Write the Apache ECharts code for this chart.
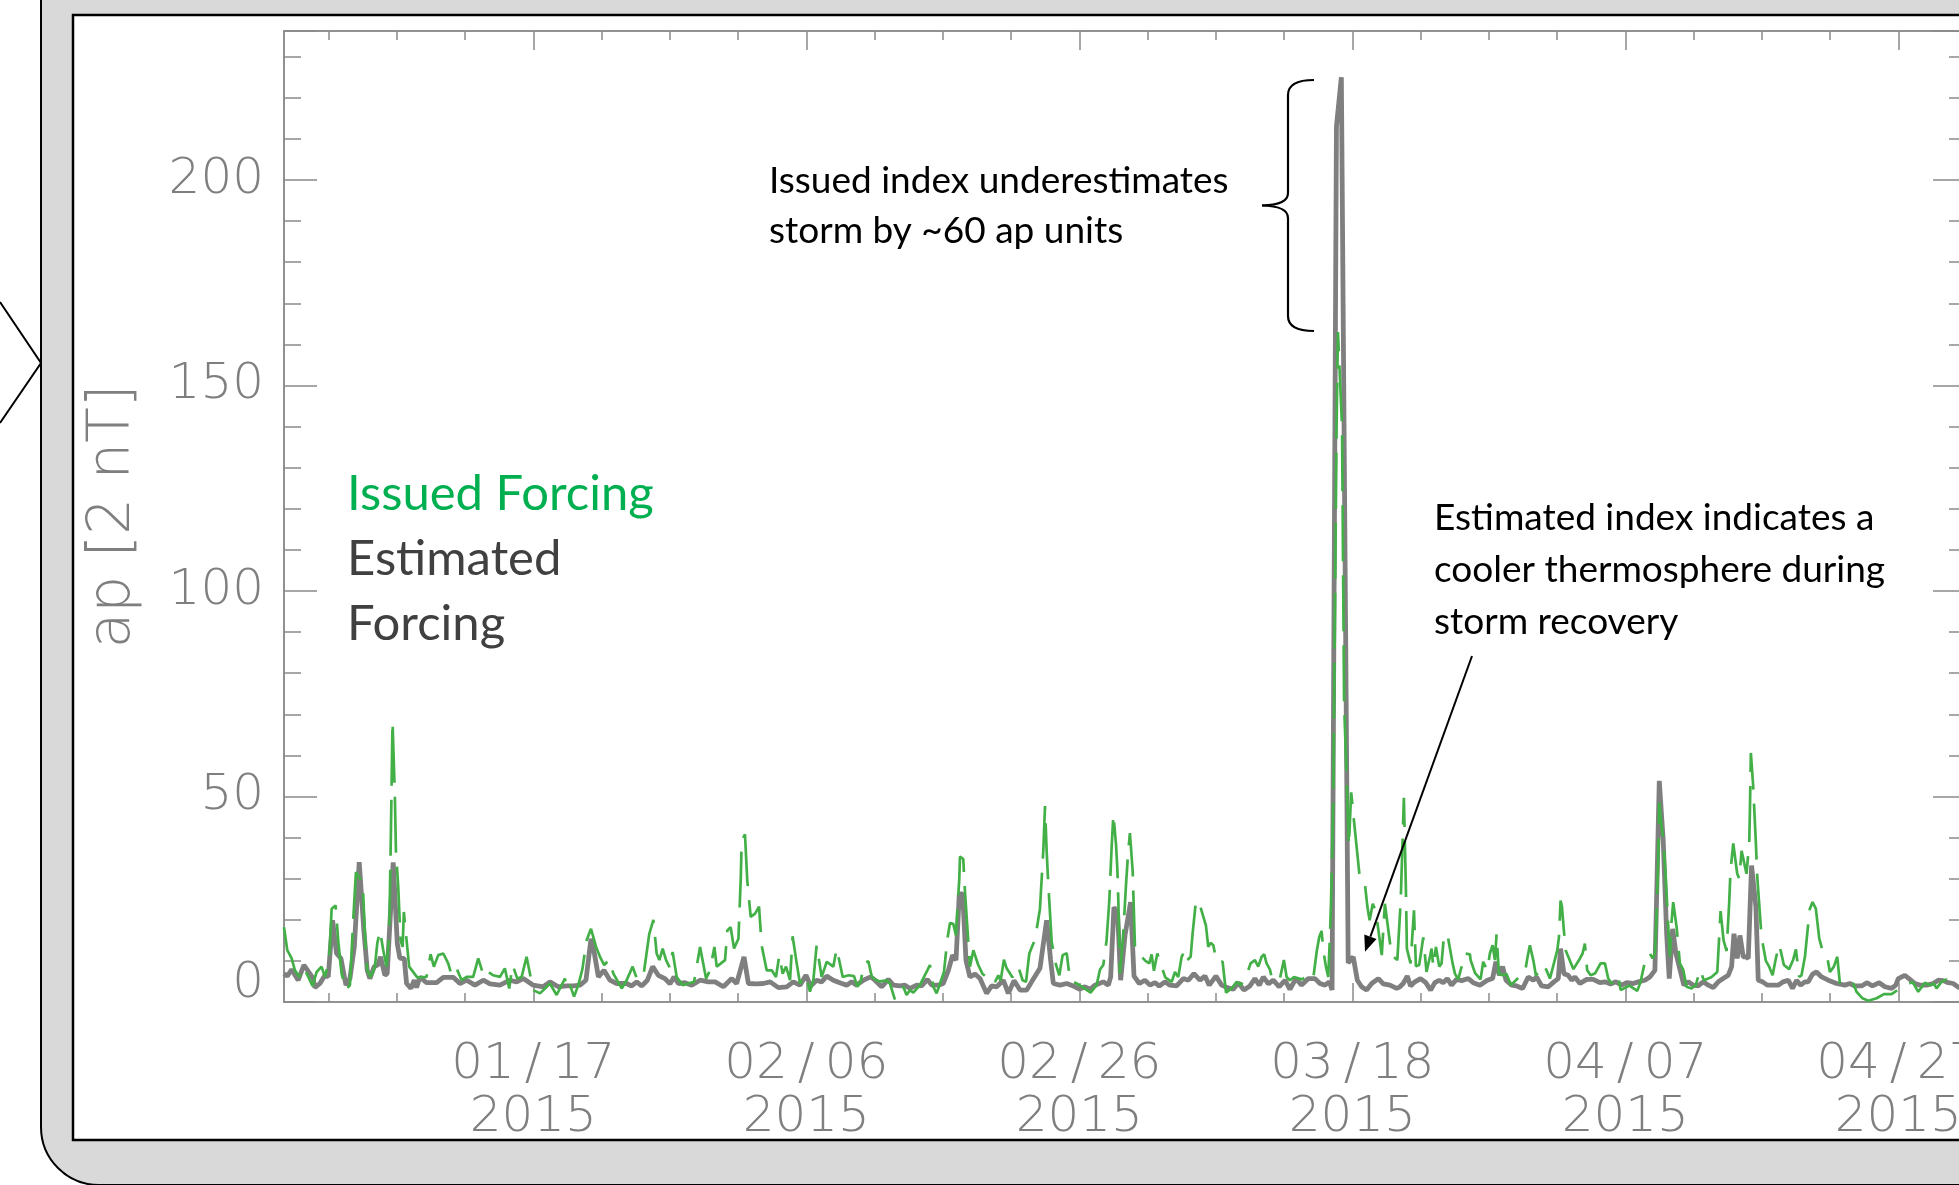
<!DOCTYPE html>
<html>
<head>
<meta charset="utf-8">
<script src="https://cdn.jsdelivr.net/npm/echarts@6/dist/echarts.min.js"></script>
<style>
html, body { margin: 0; padding: 0; background: #fff; }
#chart { width: 1959px; height: 1185px; }
</style>
</head>
<body>
<div id="chart"></div>
<script>
// x = days counted from 2015-01-01 (16 = 01/17), y = ap [2 nT]
var estimatedAp = [
  [-2.26,6.9],[-2.02,6.3],[-1.7,7.9],[-1.22,5.3],[-0.8,9],[-0.12,5.7],[0.0,3.5],[0.37,4.5],[0.74,6.5],[0.98,6.1],
  [1.3,19.9],[1.59,11.8],[1.91,10.6],[2.28,4.1],[2.57,5.7],[2.89,13.4],[3.25,34],[3.59,17.4],[3.84,7.7],[4.03,5.7],
  [4.35,8.6],[4.64,9.1],[4.81,11],[5.13,6.5],[5.3,6.9],[5.74,34],[6.04,14.2],[6.23,10.6],[6.55,10.6],[6.72,4.5],
  [7.04,3.3],[7.28,5.3],[7.45,3.5],[7.7,6.1],[8.18,4.7],[8.92,4.7],[9.41,6.0],[10.14,6.0],[10.63,4.5],[11.12,5.3],
  [11.73,4.1],[12.34,5.3],[12.83,4.4],[13.56,4.1],[14.29,5.3],[14.78,4.9],[15.27,5.7],[16.0,4.1],[16.73,3.7],[17.22,4.9],
  [17.83,3.7],[18.45,3.9],[18.94,3.9],[19.43,4.1],[19.86,5.3],[20.23,15.4],[20.48,11.8],[20.77,6.1],[21.18,7.7],[21.62,5.3],
  [22.11,4.5],[22.84,4.5],[23.21,3.9],[23.58,4.9],[23.94,3.9],[24.36,5.3],[24.75,8.6],[25.16,6.5],[25.65,5.7],[26.02,4.4],
  [26.31,6.1],[26.63,4.5],[27.12,4.7],[27.61,4.1],[28.22,5.3],[28.83,4.9],[29.32,4.9],[29.93,3.7],[30.54,5.7],[30.9,4.5],
  [31.44,11],[31.76,4.5],[32.37,4.4],[32.86,4.5],[33.35,4.9],[33.96,3.5],[34.57,3.7],[35.05,4.9],[35.54,4.1],[35.98,6.5],
  [36.32,3.9],[36.76,5.3],[37.13,4.9],[37.5,6.3],[37.98,5.3],[38.5,4.6],[38.96,4.1],[39.32,4.9],[39.69,4.1],[40.18,5.3],
  [40.72,6.1],[41.03,5.3],[41.52,3.7],[42.01,5.5],[42.38,4.1],[42.87,3.9],[43.23,4.1],[43.6,3.3],[44.09,4.1],[44.45,3.9],
  [44.87,5.5],[45.19,4.1],[45.67,4.1],[46.04,4.5],[46.41,7.7],[46.72,11.4],[46.97,10.2],[47.21,26.3],[47.46,26.3],[47.7,10.2],
  [47.99,6.1],[48.36,6.8],[48.73,5.7],[49.21,2.1],[49.58,3.9],[49.95,3.7],[50.44,5.3],[50.8,2.1],[51.22,5.2],[51.66,2.9],
  [52.15,2.9],[52.51,4.9],[53.12,8.2],[53.61,19.9],[53.9,10.2],[54.1,4.5],[54.59,4.1],[55.08,4.5],[55.56,3.9],[56.0,3.1],
  [56.42,3.7],[56.78,3.1],[57.15,4.1],[57.76,4.9],[58.13,4.1],[58.3,6.1],[58.54,23.1],[58.81,21.5],[59.03,5.3],[59.35,16.2],
  [59.76,24.3],[60.01,6.3],[60.4,4.5],[60.81,5.3],[61.18,4.1],[61.54,4.7],[61.86,3.9],[62.28,4.9],[62.64,4.1],[63.13,3.9],
  [63.62,5.7],[63.99,5.3],[64.4,6.9],[64.84,5.3],[65.21,6.3],[65.52,4.1],[66.01,6.3],[66.43,4.1],[66.84,3.5],[67.28,3.1],
  [67.65,4.7],[68.06,2.9],[68.5,3.9],[68.87,5.7],[69.19,4.1],[69.48,6.1],[69.85,4.4],[70.21,5.3],[70.65,3.7],[71.07,5.3],
  [71.43,3.1],[71.87,5.7],[72.29,4.1],[72.78,5.7],[73.27,5.7],[73.63,4.5],[74.0,4.1],[74.32,4.9],[74.52,2.9],[74.84,213],
  [75.2,225],[75.7,9.5],[76.07,11],[76.37,5.3],[76.68,3.7],[77.05,2.9],[77.42,4.5],[77.91,5.7],[78.27,4.4],[78.76,4.1],
  [79.25,3.3],[79.49,3.7],[79.73,4.5],[80.03,6.3],[80.27,3.9],[80.59,4.9],[81.0,5.7],[81.39,4.7],[81.74,2.9],[82.05,4.7],
  [82.37,5.3],[82.66,4.7],[82.96,5.7],[83.27,4.1],[83.64,5.5],[84.01,5.2],[84.5,5.7],[84.86,4.7],[85.35,4.1],[85.89,5.3],
  [86.28,5.7],[86.52,9.8],[86.77,6.5],[87.01,8.6],[87.26,5.3],[87.67,4.1],[88.04,3.9],[88.48,3.3],[88.89,6.1],[89.26,5.3],
  [89.5,6.1],[89.87,3.9],[90.36,3.7],[90.77,4.9],[91.09,5.7],[91.26,13],[91.5,6.9],[91.82,6.5],[92.07,5.3],[92.31,6.1],
  [92.68,4.5],[93.17,5.5],[93.65,5.5],[94.14,4.7],[94.51,4.9],[94.92,4.4],[95.31,4.9],[95.73,4.1],[96.1,4.7],[96.58,4.5],
  [96.95,4.9],[97.44,5.3],[97.8,6.1],[98.17,7.7],[98.29,24.7],[98.49,53.8],[98.78,39.2],[99.03,16.6],[99.22,5.7],[99.47,17.8],
  [99.71,11.8],[100.0,8.0],[100.29,4.1],[100.61,4.9],[100.98,4.1],[101.34,3.9],[101.71,4.9],[102.08,4.1],[102.44,3.5],[102.81,4.9],
  [103.17,5.7],[103.54,6.5],[103.79,8.6],[103.96,16.6],[104.2,10.6],[104.4,16.2],[104.64,11],[104.84,11],[105.01,10.6],[105.25,33.2],
  [105.57,23.1],[105.74,5.3],[106.06,4.9],[106.4,4.1],[107.2,4.1],[107.57,4.9],[107.94,5.3],[108.25,3.3],[108.55,5.3],[108.84,4.1],
  [109.16,4.9],[109.4,4.9],[109.72,6.8],[110.01,7.3],[110.38,6.1],[110.87,5.3],[111.48,4.5],[112.09,4.1],[112.45,4.5],[112.82,3.9],
  [113.31,3.9],[113.72,4.7],[114.11,3.9],[114.6,4.7],[115.02,3.7],[115.51,3.3],[115.82,4.1],[116.0,5.7],[116.48,6.5],[116.85,5.5],
  [117.22,4.5],[117.58,4.1],[118.07,4.1],[118.56,4.5],[118.93,5.3],[119.29,5.2],[119.66,4.7],[120.02,4.5],[120.44,3.5],[121.0,4.0]
];

var issuedAp = [
  [-2.26,18.2],[-2.02,12.6],[-1.7,10.6],[-1.46,7.7],[-1.14,6.1],[-0.85,8.6],[-0.48,6.1],[-0.17,3.9],[0.13,7.3],[0.49,8.6],
  [0.74,6.1],[1.05,10.2],[1.23,22.7],[1.52,23.5],[1.71,15],[1.96,6.9],[2.28,2.9],[2.57,4.1],[2.81,19.9],[3.01,31.6],
  [3.5,29.1],[3.67,16.6],[3.84,7.7],[4.08,6.1],[4.4,8.6],[4.57,14.2],[4.77,17.4],[5.01,12.6],[5.25,8.6],[5.45,16.6],
  [5.57,40.8],[5.69,68.3],[5.86,50.5],[5.94,36.8],[6.11,27.9],[6.28,15],[6.43,13.4],[6.52,21.9],[6.72,15],[6.91,8.6],
  [7.5,6.0],[8.18,6.1],[8.48,11.6],[8.72,8.6],[9.04,11.4],[9.41,11.8],[9.77,9.4],[10.02,6.5],[10.38,8.2],[10.75,5.3],
  [11.12,6.1],[11.6,6.1],[11.97,10.6],[12.39,6.1],[12.7,7.3],[13.07,6.5],[13.56,6.1],[13.92,8.2],[14.24,3.3],[14.49,9.0],
  [14.83,5.7],[15.15,6.1],[15.51,11],[16.0,2.9],[16.49,2.1],[16.86,3.3],[17.22,4.5],[17.71,1.7],[18.32,5.7],[18.5,2.9],
  [18.69,4.1],[18.99,1.3],[19.3,4.1],[19.6,8],[19.91,15],[20.23,17.8],[20.6,13.4],[20.89,11],[21.2,9],[21.57,10.3],
  [21.87,6.9],[22.48,3.3],[22.84,5.3],[23.28,8.6],[23.63,5.3],[24.11,7.3],[24.5,16.6],[24.8,20],[25.04,11.8],[25.24,10.2],
  [25.48,13],[25.73,10.2],[26.02,8.2],[26.21,12.2],[26.51,6.1],[26.95,4.1],[27.36,4.5],[27.78,4.9],[28.22,13.4],[28.66,5.7],
  [28.95,7.7],[29.27,13.4],[29.44,8.6],[30.05,10.2],[30.22,17.4],[30.46,18.2],[30.71,13],[31.03,15.4],[31.2,29.9],[31.27,39.2],
  [31.51,40.8],[31.68,29.5],[31.93,20.7],[32.25,21.5],[32.54,23.2],[32.73,13.8],[33.1,7.7],[33.47,7.7],[33.78,6.1],[34.03,11.4],
  [34.27,6.9],[34.52,8.6],[34.81,5.3],[35.0,16],[35.3,9.4],[35.54,4.5],[35.98,6.5],[36.27,2.5],[36.52,5.3],[36.76,13.8],
  [37.13,6.1],[37.5,9.8],[37.98,8.6],[38.23,13],[38.67,6.1],[39.1,6.5],[39.5,6.3],[39.74,3.7],[39.98,4.9],[40.23,9.4],
  [40.55,9.9],[40.79,6.3],[41.03,5.5],[41.4,5],[41.89,5.3],[42.13,4.5],[42.5,0.5],[42.82,2.5],[43.11,3.7],[43.35,1.7],
  [43.6,2.9],[43.84,2.3],[44.3,4],[44.87,7.7],[45.06,9.0],[45.31,3.7],[45.55,2.1],[45.8,4.5],[46.09,7.3],[46.33,15.2],
  [46.53,19.2],[46.77,19],[46.97,16.2],[47.07,22.3],[47.21,29.9],[47.26,35.4],[47.5,34.8],[47.63,26.7],[47.8,18.2],[47.99,8.6],
  [48.24,12.6],[48.6,9],[48.92,6.8],[49.34,5.7],[49.65,6.1],[49.83,4.9],[50.07,6.5],[50.24,5.2],[50.48,10.3],[50.68,8.2],
  [51.1,6],[51.53,8.6],[51.85,5.3],[52.1,4.9],[52.34,11.8],[52.58,13.8],[52.76,15.2],[53.12,22.7],[53.37,37.2],[53.49,47.7],
  [53.61,36.8],[53.73,28.7],[53.98,14.6],[54.3,9],[54.54,6.5],[54.78,11.4],[55.08,11.9],[55.32,5.3],[55.8,4.5],[56.3,3.5],
  [56.83,2.3],[57.27,4.1],[57.52,7.9],[57.76,9.0],[58.0,15],[58.2,24.7],[58.37,37.6],[58.5,45.7],[58.69,38.4],[58.79,32.4],
  [58.86,24.7],[58.98,6.9],[59.22,16.6],[59.42,28.3],[59.57,36],[59.71,41.1],[59.91,32],[60.08,13.4],[60.32,13],[60.57,11],
  [60.85,10],[61.13,9.4],[61.3,11.6],[61.47,7.6],[61.72,11.8],[61.91,9.8],[62.3,6],[62.77,4.9],[63.01,7.3],[63.25,6.1],
  [63.5,11],[63.74,12.6],[63.91,10.2],[64.16,11],[64.3,16.6],[64.55,24.7],[64.8,24],[65.28,18.6],[65.45,13.4],[65.62,14.4],
  [65.82,13.8],[66.06,9.8],[66.5,9.8],[66.75,2.3],[67.16,3.3],[67.53,4.9],[67.82,4.1],[68.2,6],[68.55,9.4],[68.87,10.2],
  [69.11,8.6],[69.36,11],[69.55,11.6],[69.72,9.4],[69.97,7.9],[70.09,6.1],[70.4,5],[70.7,5.7],[70.99,10.2],[71.19,6.1],
  [71.43,5.3],[71.73,6.1],[72.3,5.5],[72.85,6.5],[73.14,5.7],[73.39,12.2],[73.58,15.8],[73.75,17.3],[73.9,12],[74.07,8.6],
  [74.24,6.1],[74.36,15.8],[74.44,23.9],[74.54,38.4],[74.61,49],[74.85,140],[74.95,163],[75.25,140],[75.4,73],[75.75,38],
  [75.92,51],[76.2,41.6],[76.52,31.2],[76.91,29.2],[77.11,23.1],[77.27,19.9],[77.5,23.9],[77.73,22],[78.16,11.4],[78.39,23.9],
  [78.88,11.4],[79.3,10.2],[79.55,24.7],[79.78,49.7],[79.93,27.1],[80.0,13],[80.27,9.4],[80.52,22.3],[80.66,8.7],[80.9,9],
  [81.2,15.7],[81.44,7.3],[81.69,11],[81.81,13],[81.93,8.6],[82.13,13.4],[82.37,8.6],[82.54,9.4],[82.71,15.8],[82.96,16.6],
  [83.35,9.4],[83.52,6.9],[83.76,5.5],[84.01,8.6],[84.25,11.8],[84.62,11.6],[84.67,10.2],[85.0,7],[85.4,5.5],[85.59,9.8],
  [85.89,7.7],[86.08,11.8],[86.28,13.8],[86.45,10.2],[86.57,16.5],[86.74,6.9],[87.06,6.5],[87.3,6.8],[87.62,4.1],[88.2,6],
  [88.65,7.1],[88.82,10.6],[89.01,13.8],[89.26,10.2],[89.45,6.5],[89.75,7.5],[90.04,9.0],[90.23,7.7],[90.48,5.7],[90.77,9.4],
  [91.02,12.6],[91.14,15.8],[91.26,24.7],[91.36,23.2],[91.5,17.4],[91.65,12.4],[92.2,8],[92.68,10.6],[92.87,11.8],[93.04,14.2],
  [93.21,7.7],[93.46,6.5],[93.8,7],[94.19,9.4],[94.51,9.4],[94.75,5.7],[95.0,4.5],[95.24,5.3],[95.48,6.5],[95.66,2.9],
  [96.3,4],[96.88,2.7],[97.12,4.9],[97.36,8.6],[97.56,11.4],[97.8,11.8],[98.0,10.6],[98.17,11.8],[98.29,20.7],[98.42,35.2],
  [98.49,48.5],[98.66,42.5],[98.78,40],[98.95,31.2],[99.15,18.2],[99.27,11],[99.39,19.5],[99.51,24.3],[99.76,18.2],[100.0,9.4],
  [100.24,7.9],[100.49,3.7],[100.85,3.3],[101.17,4.1],[101.47,7.9],[101.76,5.3],[102.3,6],[102.74,7.3],[102.98,22.1],[103.2,15],
  [103.42,12.4],[103.61,24.1],[103.71,32],[103.91,38.6],[104.2,31.2],[104.35,30],[104.52,36.8],[104.88,31.2],[105.08,38.8],[105.13,46.5],
  [105.2,60.6],[105.37,52.5],[105.57,38.4],[105.67,30.3],[105.81,23.9],[105.98,15.8],[106.3,10],[106.54,8.6],[106.79,6.5],[107.03,10.6],
  [107.28,14],[107.62,9.0],[108.0,8],[108.3,10.3],[108.5,12.8],[108.74,6.1],[108.91,6.5],[109.16,11],[109.4,19],[109.52,22.7],
  [109.72,24.3],[109.96,22.7],[110.21,15.4],[110.5,12],[110.79,11],[110.99,7.3],[111.28,8.6],[111.53,11],[111.72,4.5],[112.2,4.8],
  [112.65,4.9],[112.94,2.5],[113.38,0.9],[113.8,0.3],[114.41,0.9],[114.95,1.9],[115.51,1.9],[116.2,3.5],[117.05,4.9],[117.46,2.5],
  [117.95,4.7],[118.32,4.1],[118.61,4.5],[118.8,3.3],[119.17,4.9],[119.54,5.5],[120.0,4.5],[120.5,4.2],[121.0,4.0]
];

var majorTickDays = [16, 36, 56, 76, 96, 116];
var minorTickDays = [1, 6, 11, 16, 21, 26, 31, 36, 41, 46, 51, 56, 61, 66, 71, 76, 81, 86, 91, 96, 101, 106, 111, 116];
var xMin = -2.26, xMax = 120.96;
var yMin = 0, yMax = 236.25;

var axisGray = '#8a8a8a';
var labelGray = '#7f7f7f';
var thinFont = 'DejaVu Sans';

function dayLabel(d) {
  var t = new Date(Date.UTC(2015, 0, 1) + Math.round(d) * 86400000);
  var mm = ('0' + (t.getUTCMonth() + 1)).slice(-2);
  var dd = ('0' + t.getUTCDate()).slice(-2);
  return mm + '\u2009/\u2009' + dd + '\n' + t.getUTCFullYear();
}

function xAx(pos, ticks, len, withLabel) {
  return {
    type: 'value', position: pos, min: xMin, max: xMax,
    axisLine: { show: true, onZero: false, lineStyle: { color: axisGray, width: 1.5 } },
    axisTick: { show: true, inside: true, length: len, customValues: ticks, lineStyle: { color: axisGray, width: 1.5 } },
    axisLabel: withLabel ? {
      show: true, customValues: majorTickDays, margin: 37,
      color: labelGray, fontFamily: thinFont, fontWeight: 200, fontSize: 50, lineHeight: 53,
      formatter: dayLabel
    } : { show: false },
    splitLine: { show: false }
  };
}

function yAx(pos, interval, len, withLabel) {
  var ax = {
    type: 'value', position: pos, min: yMin, max: yMax, interval: interval,
    axisLine: { show: true, onZero: false, lineStyle: { color: axisGray, width: 1.5 } },
    axisTick: { show: true, inside: true, length: len, lineStyle: { color: axisGray, width: 1.5 } },
    axisLabel: { show: false },
    splitLine: { show: false }
  };
  if (withLabel) {
    ax.axisLabel = {
      show: true, margin: 20, color: labelGray, fontFamily: thinFont, fontWeight: 200, fontSize: 50,
      formatter: function (v) {
        if (v === 0) return '{lo|0}';
        return v % 50 === 0 ? String(v) : '';
      },
      rich: { lo: { padding: [0, 0, 36, 0], color: labelGray, fontFamily: thinFont, fontWeight: 200, fontSize: 50 } }
    };
    ax.name = 'ap [2 nT]';
    ax.nameLocation = 'middle';
    ax.nameRotate = 90;
    ax.nameGap = 141;
    ax.nameTextStyle = { color: labelGray, fontFamily: thinFont, fontWeight: 200, fontSize: 58 };
  }
  return ax;
}

function braceCurve(x1, y1, cx, cy, x2, y2) {
  return { type: 'bezierCurve', z: 50, shape: { x1: x1, y1: y1, cpx1: cx, cpy1: cy, x2: x2, y2: y2 },
    style: { stroke: '#000', lineWidth: 2.2, fill: null } };
}
function braceLine(x1, y1, x2, y2) {
  return { type: 'line', z: 50, shape: { x1: x1, y1: y1, x2: x2, y2: y2 },
    style: { stroke: '#000', lineWidth: 2.2 } };
}

var chart = echarts.init(document.getElementById('chart'));

var option = {
  backgroundColor: '#ffffff',
  animation: false,
  grid: { left: 284, right: -7, top: 31, bottom: 183, containLabel: false, outerBoundsMode: 'none' },
  xAxis: [
    xAx('bottom', majorTickDays, 19, true),
    xAx('bottom', minorTickDays, 9, false),
    xAx('top', majorTickDays, 19, false),
    xAx('top', minorTickDays, 9, false)
  ],
  yAxis: [
    yAx('left', 50, 33, true),
    yAx('left', 10, 17, false),
    yAx('right', 50, 33, false),
    yAx('right', 10, 17, false)
  ],
  series: [
    {
      name: 'Estimated Forcing', type: 'line', xAxisIndex: 0, yAxisIndex: 0,
      data: estimatedAp, symbol: 'none', z: 2,
      lineStyle: { color: '#7f7f7f', width: 4.8 }
    },
    {
      name: 'Issued Forcing', type: 'line', xAxisIndex: 0, yAxisIndex: 0,
      data: issuedAp, symbol: 'none', z: 3,
      lineStyle: { color: '#43b047', width: 2.7, type: [56, 14] }
    }
  ],
  graphic: [
    // outer rounded panel and inner white frame
    { type: 'rect', z: -20, shape: { x: 41, y: -120, width: 2100, height: 1305, r: 58 },
      style: { fill: '#d9d9d9', stroke: '#000', lineWidth: 2 } },
    { type: 'rect', z: -19, shape: { x: 73, y: 15, width: 2000, height: 1125 },
      style: { fill: '#fff', stroke: '#000', lineWidth: 2.5 } },
    { type: 'polyline', z: -18, shape: { points: [[0, 302], [41, 363], [0, 423]] },
      style: { stroke: '#000', lineWidth: 2, fill: null } },

    // legend text
    { type: 'text', z: 50, x: 347, y: 494,
      style: { text: 'Issued Forcing', fill: '#00b050', fontFamily: 'Lato', fontSize: 49, align: 'left', verticalAlign: 'middle' } },
    { type: 'text', z: 50, x: 347, y: 527,
      style: { text: 'Estimated\nForcing', fill: '#404040', fontFamily: 'Lato', fontSize: 49, lineHeight: 65, align: 'left', verticalAlign: 'top' } },

    // annotations
    { type: 'text', z: 50, x: 769, y: 156,
      style: { text: 'Issued index underestimates\nstorm by ~60 ap units', fill: '#000', fontFamily: 'Lato', fontSize: 37, lineHeight: 50, align: 'left', verticalAlign: 'top' } },
    { type: 'text', z: 50, x: 1434, y: 492,
      style: { text: 'Estimated index indicates a\ncooler thermosphere during\nstorm recovery', fill: '#000', fontFamily: 'Lato', fontSize: 37, lineHeight: 52, align: 'left', verticalAlign: 'top' } },

    // curly brace beside the storm peak
    braceCurve(1314, 80, 1288, 80, 1288, 95),
    braceLine(1288, 95, 1288, 193),
    braceCurve(1288, 193, 1288, 205, 1262, 205.5),
    braceCurve(1262, 205.5, 1288, 206, 1288, 218),
    braceLine(1288, 218, 1288, 316),
    braceCurve(1288, 316, 1288, 331, 1314, 331),

    // arrow to the storm recovery
    { type: 'line', z: 50, shape: { x1: 1472, y1: 656, x2: 1370.4, y2: 936.7 },
      style: { stroke: '#000', lineWidth: 2 } },
    { type: 'polygon', z: 50, shape: { points: [[1365, 951.7], [1376.5, 938.9], [1364.3, 934.5]] },
      style: { fill: '#000' } }
  ]
};

chart.setOption(option);
</script>
</body>
</html>
